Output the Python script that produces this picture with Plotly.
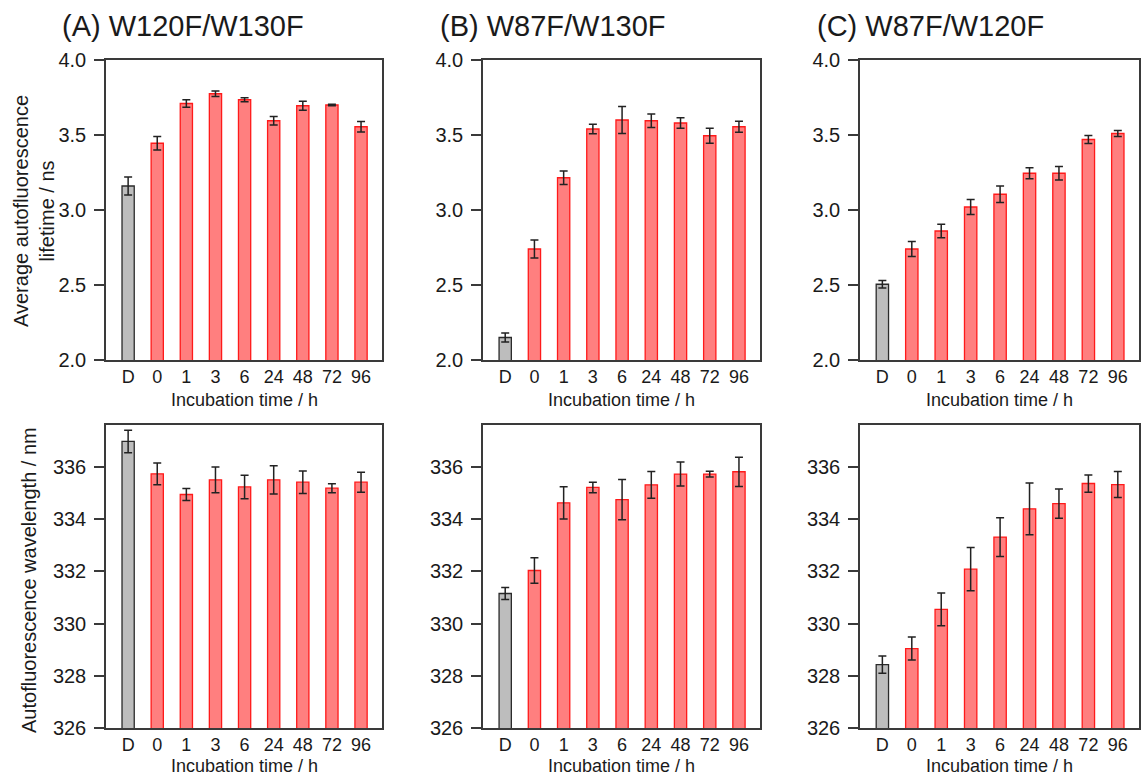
import plotly.graph_objects as go

categories = ["D", "0", "1", "3", "6", "24", "48", "72", "96"]
panel_titles = ["(A) W120F/W130F", "(B) W87F/W130F", "(C) W87F/W120F"]
x_title = "Incubation time / h"
y_titles = ["Average autofluorescence<br>lifetime / ns", "Autofluorescence wavelength / nm"]

# Average autofluorescence lifetime (ns)
lifetime_A = [3.16, 3.445, 3.71, 3.775, 3.735, 3.595, 3.695, 3.70, 3.555]
lifetime_A_err = [0.06, 0.045, 0.025, 0.018, 0.014, 0.028, 0.03, 0.005, 0.035]
lifetime_B = [2.15, 2.74, 3.215, 3.54, 3.60, 3.595, 3.58, 3.495, 3.555]
lifetime_B_err = [0.03, 0.06, 0.045, 0.032, 0.09, 0.045, 0.035, 0.05, 0.037]
lifetime_C = [2.505, 2.74, 2.86, 3.02, 3.105, 3.245, 3.245, 3.47, 3.51]
lifetime_C_err = [0.025, 0.05, 0.045, 0.05, 0.055, 0.037, 0.045, 0.027, 0.02]

# Autofluorescence wavelength (nm)
wavelength_A = [336.97, 335.73, 334.94, 335.5, 335.23, 335.5, 335.41, 335.18, 335.41]
wavelength_A_err = [0.43, 0.42, 0.23, 0.49, 0.45, 0.54, 0.43, 0.17, 0.38]
wavelength_B = [331.15, 332.03, 334.62, 335.21, 334.74, 335.31, 335.72, 335.72, 335.81]
wavelength_B_err = [0.23, 0.49, 0.62, 0.2, 0.77, 0.51, 0.46, 0.11, 0.56]
wavelength_C = [328.43, 329.04, 330.54, 332.08, 333.31, 334.39, 334.59, 335.36, 335.32]
wavelength_C_err = [0.33, 0.44, 0.63, 0.83, 0.74, 0.99, 0.56, 0.33, 0.5]

W, H = 1141, 776
FONT = "Arial, Liberation Sans, sans-serif"
TXT = "#1a1a1a"
LINE = "#3a3a3a"

x_dom = [(106, 382), (483, 760), (860, 1139)]
y_dom = [(60, 360), (425, 728)]

def px_x(a, b):
    return [a / W, b / W]

def px_y(top, bottom):
    return [1 - bottom / H, 1 - top / H]

fig = go.Figure()

rows = [
    ([lifetime_A, lifetime_B, lifetime_C], [lifetime_A_err, lifetime_B_err, lifetime_C_err]),
    ([wavelength_A, wavelength_B, wavelength_C], [wavelength_A_err, wavelength_B_err, wavelength_C_err]),
]

xpos = list(range(len(categories)))
fill = ["#bdbdbd"] + ["#ff7f7f"] * (len(categories) - 1)
edge = ["#2a2a2a"] + ["#ff1a1a"] * (len(categories) - 1)

layout = dict(
    width=W, height=H, margin=dict(l=0, r=0, t=0, b=0),
    paper_bgcolor="white", plot_bgcolor="white", showlegend=False,
    font=dict(family=FONT, size=19, color=TXT),
)

k = 0
for r, (vals, errs) in enumerate(rows):
    for c in range(3):
        k += 1
        xa = "x" if k == 1 else f"x{k}"
        ya = "y" if k == 1 else f"y{k}"
        fig.add_trace(go.Bar(
            x=xpos, y=vals[c], xaxis=xa, yaxis=ya,
            width=0.42,
            marker=dict(color=fill, line=dict(color=edge, width=1.3)),
            error_y=dict(type="data", array=errs[c], visible=True,
                         color="#222222", thickness=1.5, width=4),
        ))
        xkey = "xaxis" if k == 1 else f"xaxis{k}"
        ykey = "yaxis" if k == 1 else f"yaxis{k}"
        layout[xkey] = dict(
            domain=px_x(*x_dom[c]), anchor=ya, range=[-0.76, 8.72],
            tickmode="array", tickvals=xpos, ticktext=categories,
            ticks="", showline=True, mirror=True, linecolor=LINE, linewidth=1.5,
            showgrid=False, zeroline=False, automargin=False,
            tickfont=dict(size=18, color=TXT),
        )
        if r == 0:
            yr = dict(range=[2.0, 4.0], dtick=0.5, tickformat=".1f")
        else:
            yr = dict(range=[326, 337.6], tickvals=[326, 328, 330, 332, 334, 336])
        layout[ykey] = dict(
            domain=px_y(*y_dom[r]), anchor=xa,
            ticks="outside", ticklen=10, tickwidth=1.5, tickcolor=LINE,
            showline=True, mirror=True, linecolor=LINE, linewidth=1.5,
            showgrid=False, zeroline=False, automargin=False,
            tickfont=dict(size=20, color=TXT), ticklabelstandoff=4,
            **yr,
        )

annotations = []
# panel titles
title_x = [60, 438, 815]
for c in range(3):
    annotations.append(dict(
        text=panel_titles[c], x=title_x[c] / W, y=1 - 26 / H, xref="paper", yref="paper",
        xanchor="left", yanchor="middle", showarrow=False,
        font=dict(size=29, color=TXT, family=FONT),
    ))
# x axis titles
xt_y = [400, 766]
for r in range(2):
    for c in range(3):
        cx = (x_dom[c][0] + x_dom[c][1]) / 2
        annotations.append(dict(
            text=x_title, x=cx / W, y=1 - xt_y[r] / H, xref="paper", yref="paper",
            xanchor="center", yanchor="middle", showarrow=False,
            font=dict(size=18, color=TXT, family=FONT),
        ))
# y axis titles
yt_pos = [(34, 211), (29, 580)]
for r in range(2):
    annotations.append(dict(
        text=y_titles[r], x=yt_pos[r][0] / W, y=1 - yt_pos[r][1] / H, xref="paper", yref="paper",
        xanchor="center", yanchor="middle", showarrow=False, textangle=-90,
        font=dict(size=20, color=TXT, family=FONT),
    ))
layout["annotations"] = annotations

fig.update_layout(**layout)
fig.write_html("out.html", config={"displayModeBar": False},
               post_script="document.body.style.margin='0';document.body.style.overflow='hidden';")
